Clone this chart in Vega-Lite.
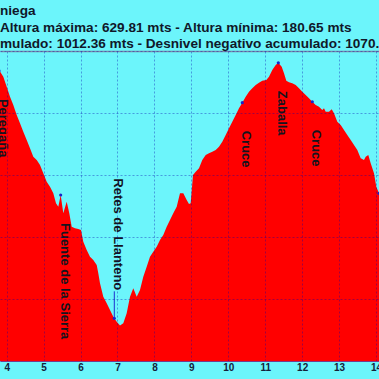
{
  "$schema": "https://vega.github.io/schema/vega-lite/v6.json",
  "width": 379,
  "height": 310,
  "autosize": {"type": "none"},
  "padding": {"top": 51, "left": 0, "right": 0, "bottom": 18},
  "background": "#6cf5fb",
  "title": {
    "text": ["niega", "Altura máxima: 629.81 mts - Altura mínima: 180.65 mts", "mulado: 1012.36 mts - Desnivel negativo acumulado: 1070."],
    "anchor": "start",
    "frame": "group",
    "font": "Liberation Sans",
    "fontSize": 13.6,
    "fontWeight": "bold",
    "color": "#10182a",
    "lineHeight": 16.5,
    "offset": 0
  },
  "config": {"view": {"stroke": null}},
  "datasets": {
    "profile": [
      {"km": 3.80, "alt": 617.0},
      {"km": 3.9080, "alt": 606.1},
      {"km": 4.0000, "alt": 589.0},
      {"km": 4.0894, "alt": 571.9},
      {"km": 4.1787, "alt": 557.7},
      {"km": 4.2708, "alt": 540.6},
      {"km": 4.3602, "alt": 526.4},
      {"km": 4.4495, "alt": 512.0},
      {"km": 4.5416, "alt": 497.8},
      {"km": 4.6309, "alt": 483.6},
      {"km": 4.7203, "alt": 469.3},
      {"km": 4.8124, "alt": 463.6},
      {"km": 4.9017, "alt": 455.1},
      {"km": 4.9911, "alt": 440.9},
      {"km": 5.0832, "alt": 426.5},
      {"km": 5.1725, "alt": 418.0},
      {"km": 5.2619, "alt": 406.7},
      {"km": 5.3350, "alt": 389.6},
      {"km": 5.3973, "alt": 383.8},
      {"km": 5.4622, "alt": 403.8},
      {"km": 5.5326, "alt": 372.5},
      {"km": 5.6247, "alt": 392.3},
      {"km": 5.6951, "alt": 372.5},
      {"km": 5.7601, "alt": 349.6},
      {"km": 5.8495, "alt": 346.9},
      {"km": 5.9388, "alt": 345.7},
      {"km": 6.0119, "alt": 344.0},
      {"km": 6.0742, "alt": 324.0},
      {"km": 6.1663, "alt": 309.8},
      {"km": 6.2556, "alt": 298.3},
      {"km": 6.3450, "alt": 292.7},
      {"km": 6.4371, "alt": 284.1},
      {"km": 6.4804, "alt": 269.9},
      {"km": 6.5264, "alt": 252.8},
      {"km": 6.6158, "alt": 229.9},
      {"km": 6.7079, "alt": 218.6},
      {"km": 6.7972, "alt": 207.2},
      {"km": 6.8866, "alt": 195.7},
      {"km": 6.9137, "alt": 193.0},
      {"km": 6.9787, "alt": 187.2},
      {"km": 7.0680, "alt": 180.65},
      {"km": 7.1574, "alt": 184.4},
      {"km": 7.2494, "alt": 201.5},
      {"km": 7.3388, "alt": 229.9},
      {"km": 7.4281, "alt": 244.3},
      {"km": 7.5202, "alt": 229.9},
      {"km": 7.6095, "alt": 241.4},
      {"km": 7.6989, "alt": 264.1},
      {"km": 7.7910, "alt": 281.2},
      {"km": 7.8803, "alt": 298.3},
      {"km": 7.9697, "alt": 306.9},
      {"km": 8.0618, "alt": 315.4},
      {"km": 8.1511, "alt": 326.9},
      {"km": 8.2405, "alt": 335.4},
      {"km": 8.3326, "alt": 349.6},
      {"km": 8.4219, "alt": 361.1},
      {"km": 8.5113, "alt": 372.5},
      {"km": 8.6034, "alt": 383.8},
      {"km": 8.6927, "alt": 406.7},
      {"km": 8.7821, "alt": 406.7},
      {"km": 8.8742, "alt": 395.3},
      {"km": 8.9365, "alt": 388.4},
      {"km": 8.9824, "alt": 389.6},
      {"km": 9.0447, "alt": 438.0},
      {"km": 9.1179, "alt": 443.6},
      {"km": 9.2072, "alt": 449.4},
      {"km": 9.2966, "alt": 463.6},
      {"km": 9.3887, "alt": 472.2},
      {"km": 9.4780, "alt": 475.1},
      {"km": 9.5674, "alt": 477.8},
      {"km": 9.6595, "alt": 480.7},
      {"km": 9.7488, "alt": 486.4},
      {"km": 9.8382, "alt": 494.9},
      {"km": 9.9303, "alt": 506.4},
      {"km": 10.0196, "alt": 517.8},
      {"km": 10.1090, "alt": 529.1},
      {"km": 10.2011, "alt": 540.6},
      {"km": 10.2904, "alt": 552.0},
      {"km": 10.3798, "alt": 561.6},
      {"km": 10.4719, "alt": 571.9},
      {"km": 10.5612, "alt": 580.4},
      {"km": 10.6506, "alt": 586.2},
      {"km": 10.7427, "alt": 591.9},
      {"km": 10.8320, "alt": 595.8},
      {"km": 10.9214, "alt": 599.2},
      {"km": 11.0297, "alt": 600.4},
      {"km": 11.1028, "alt": 606.1},
      {"km": 11.1922, "alt": 617.5},
      {"km": 11.2843, "alt": 626.1},
      {"km": 11.3547, "alt": 629.81},
      {"km": 11.4467, "alt": 623.2},
      {"km": 11.5090, "alt": 611.9},
      {"km": 11.5713, "alt": 599.2},
      {"km": 11.6444, "alt": 596.5},
      {"km": 11.7338, "alt": 594.8},
      {"km": 11.8259, "alt": 591.9},
      {"km": 11.9152, "alt": 586.2},
      {"km": 12.0046, "alt": 580.4},
      {"km": 12.0967, "alt": 574.8},
      {"km": 12.1860, "alt": 569.1},
      {"km": 12.2754, "alt": 563.3},
      {"km": 12.3675, "alt": 557.7},
      {"km": 12.4568, "alt": 554.8},
      {"km": 12.5462, "alt": 549.1},
      {"km": 12.5922, "alt": 552.0},
      {"km": 12.6383, "alt": 546.2},
      {"km": 12.7276, "alt": 546.2},
      {"km": 12.8007, "alt": 550.3},
      {"km": 12.8630, "alt": 543.5},
      {"km": 12.9524, "alt": 529.1},
      {"km": 13.0445, "alt": 523.5},
      {"km": 13.1338, "alt": 514.9},
      {"km": 13.2232, "alt": 506.4},
      {"km": 13.3153, "alt": 497.8},
      {"km": 13.4046, "alt": 489.3},
      {"km": 13.4940, "alt": 480.7},
      {"km": 13.5861, "alt": 466.6},
      {"km": 13.6754, "alt": 463.6},
      {"km": 13.7215, "alt": 469.3},
      {"km": 13.7919, "alt": 472.2},
      {"km": 13.8569, "alt": 458.0},
      {"km": 13.9461, "alt": 440.9},
      {"km": 14.0084, "alt": 418.0},
      {"km": 14.0816, "alt": 406.7},
      {"km": 14.10, "alt": 402.0}
    ],
    "waypoints": [
      {"km": 3.79, "alt": 616.0, "name": "Peregaña", "pos": "below"},
      {"km": 5.4622, "alt": 403.8, "name": "Fuente de la Sierra", "pos": "below"},
      {"km": 6.9137, "alt": 193.0, "name": "Retes de Llanteno", "pos": "above"},
      {"km": 10.3798, "alt": 561.6, "name": "Cruce", "pos": "below"},
      {"km": 11.3547, "alt": 629.81, "name": "Zaballa", "pos": "below"},
      {"km": 12.2754, "alt": 563.3, "name": "Cruce", "pos": "below"},
      {"km": 14.0816, "alt": 406.7, "name": "", "pos": "below"}
    ]
  },
  "resolve": {"axis": {"x": "independent"}},
  "layer": [
    {
      "data": {"name": "profile"},
      "mark": {"type": "area", "color": "#ff0000", "clip": true, "interpolate": "linear"},
      "encoding": {
        "x": {
          "field": "km", "type": "quantitative",
          "scale": {"domain": [3.8186, 14.0816], "nice": false, "zero": false},
          "axis": {
            "orient": "bottom", "title": null, "values": [4, 5, 6, 7, 8, 9, 10, 11, 12, 13, 14],
            "ticks": false, "labelPadding": 1, "labelFont": "Liberation Sans", "labelFontSize": 10,
            "labelFontWeight": "bold", "labelColor": "#13233a", "labelFlush": false, "labelOverlap": false,
            "domain": true, "domainColor": "#7a3a8a", "domainWidth": 1,
            "grid": true, "gridColor": "#0000b0", "gridOpacity": 0.36, "gridDash": [2, 2], "gridWidth": 1,
            "zindex": 1
          }
        },
        "y": {
          "field": "alt", "type": "quantitative",
          "scale": {"domain": [120, 650], "nice": false, "zero": false},
          "axis": {
            "title": null, "labels": false, "ticks": false, "domain": false,
            "values": [120, 173, 226, 279, 332, 385, 438, 491, 544, 597, 650],
            "grid": true, "gridColor": "#0000b0", "gridOpacity": 0.36, "gridDash": [2, 2], "gridWidth": 1,
            "zindex": 1
          }
        }
      }
    },
    {
      "data": {"name": "waypoints"},
      "mark": {"type": "circle", "color": "#1a22c8", "size": 10, "opacity": 1},
      "encoding": {
        "x": {
          "field": "km", "type": "quantitative",
          "axis": {"orient": "top", "title": null, "labels": false, "ticks": false, "grid": false,
                   "domain": true, "domainColor": "#7b8fa8", "domainWidth": 1.5}
        },
        "y": {"field": "alt", "type": "quantitative"}
      }
    },
    {
      "data": {"name": "waypoints"},
      "transform": [{"filter": "datum.pos == 'above'"}],
      "mark": {"type": "point", "shape": "M0,0L0,-1", "size": 2916, "filled": false, "stroke": "#2030d0", "strokeWidth": 1, "opacity": 1},
      "encoding": {
        "x": {"field": "km", "type": "quantitative", "axis": null},
        "y": {"field": "alt", "type": "quantitative"}
      }
    },
    {
      "data": {"name": "waypoints"},
      "transform": [{"filter": "datum.pos == 'below'"}],
      "mark": {"type": "text", "angle": 90, "align": "left", "baseline": "alphabetic", "dx": 28,
               "font": "Liberation Sans", "fontSize": 13, "fontWeight": "bold", "color": "#14141e"},
      "encoding": {
        "x": {"field": "km", "type": "quantitative", "axis": null},
        "y": {"field": "alt", "type": "quantitative"},
        "text": {"field": "name"}
      }
    },
    {
      "data": {"name": "waypoints"},
      "transform": [{"filter": "datum.pos == 'above'"}],
      "mark": {"type": "text", "angle": 90, "align": "right", "baseline": "alphabetic", "dx": -28,
               "font": "Liberation Sans", "fontSize": 13, "fontWeight": "bold", "color": "#14141e"},
      "encoding": {
        "x": {"field": "km", "type": "quantitative", "axis": null},
        "y": {"field": "alt", "type": "quantitative"},
        "text": {"field": "name"}
      }
    }
  ]
}
